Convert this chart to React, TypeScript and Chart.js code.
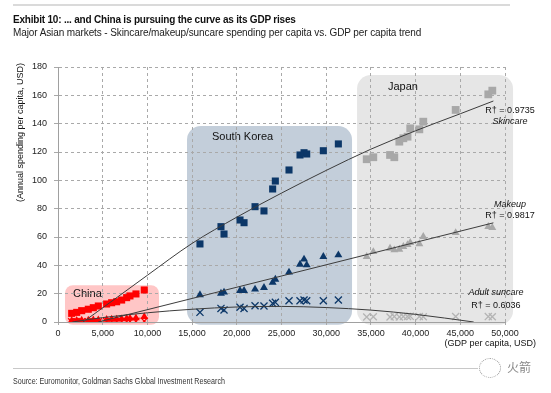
import React, { useEffect, useRef } from "react";
import { Chart, registerables } from "chart.js";

Chart.register(...registerables);

// ---------- data ----------
const chinaGdp = [1530, 2090, 2650, 3390, 3950, 4510, 5440, 6000, 6560, 7120, 7680, 8050, 8720, 9650];
const chinaSkincare = [6.1, 6.8, 8.0, 9.0, 10.1, 11.3, 12.7, 13.6, 14.3, 15.5, 17.2, 18.4, 19.8, 22.6];
const chinaMakeup = [1.0, 1.1, 1.2, 1.3, 1.4, 1.5, 1.7, 1.9, 2.0, 2.2, 2.4, 2.6, 2.8, 3.7];
const chinaSuncare = [0.1, 0.1, 0.1, 0.2, 0.2, 0.2, 0.3, 0.3, 0.3, 0.4, 0.4, 0.4, 0.5, 0.6];

const koreaGdp = [15880, 18230, 18570, 20360, 20810, 22040, 23040, 24010, 24310, 25840, 27070, 27520, 27820, 29680, 31360];
const koreaSkincare = [55.1, 67.3, 62.1, 72.0, 70.1, 81.4, 78.4, 93.9, 99.5, 107.3, 117.9, 119.5, 118.6, 120.9, 125.7];
const koreaMakeup = [19.1, 20.2, 21.0, 22.1, 22.1, 23.1, 24.2, 28.0, 30.1, 35.1, 40.7, 44.3, 40.2, 46.1, 47.3];
const koreaSuncare = [6.8, 9.6, 8.5, 10.4, 9.6, 11.5, 11.3, 13.2, 13.9, 15.0, 15.0, 15.5, 15.0, 15.0, 15.5];

const japanGdp = [34530, 35270, 37140, 37620, 38180, 38630, 39100, 39400, 40420, 40860, 44480, 48130, 48580];
const japanSkincare = [114.9, 116.3, 117.9, 116.3, 127.3, 129.7, 130.8, 136.7, 136.0, 141.4, 149.7, 160.7, 163.3];
const japanMakeup = [46.1, 49.6, 52.0, 50.8, 51.3, 53.2, 54.5, 56.0, 55.1, 60.2, 63.0, 67.3, 66.6];
const japanSuncare = [3.5, 3.7, 3.5, 3.8, 3.6, 3.8, 3.9, 4.0, 3.8, 3.7, 3.9, 3.8, 3.7];

// trend lines
const skincareTrendX = [2800, 5000, 10000, 15000, 20000, 25000, 30000, 35000, 40000, 45000, 48700];
const skincareTrendY = [0, 10, 33, 55.5, 74, 91, 107, 122, 135, 147, 156];
const makeupTrendX = [4500, 48700];
const makeupTrendY = [0, 70];
const suncareTrendX = [1600, 5000, 10000, 15000, 20000, 25000, 30000, 35000, 40000, 46500];
const suncareTrendY = [0, 3.1, 6.5, 9.0, 10.6, 11.0, 10.2, 8.4, 5.4, 0];

// axis ticks
const xTickStep = 5000;
const xMin = 0;
const xMax = 50000;
const yTickStep = 20;
const yMin = 0;
const yMax = 180;

// shaded regions (data units)
const regions = [
  { name: "China", x0: 780, x1: 11300, y0: -2, y1: 26, color: "#FFC6C6", r: 8, lx: 1680, ly: 19.8 },
  { name: "South Korea", x0: 14430, x1: 32890, y0: -2, y1: 138.4, color: "#C3CEDA", r: 14, lx: 17230, ly: 130.6 },
  { name: "Japan", x0: 33450, x1: 50900, y0: -2, y1: 174.4, color: "#E6E6E6", r: 14, lx: 36910, ly: 165.9 },
];

// R-squared annotations (data units, centred)
const notes = [
  { lines: ["R\u2020 = 0.9735", "Skincare"], italic: [false, true], x: 50560, y: [149.0, 141.2] },
  { lines: ["Makeup", "R\u2020 = 0.9817"], italic: [true, false], x: 50560, y: [82.6, 75.5] },
  { lines: ["Adult suncare", "R\u2020 = 0.6036"], italic: [true, false], x: 48990, y: [20.5, 11.6] },
];

const zip = (xs: number[], ys: number[]) => xs.map((x, i) => ({ x, y: ys[i] }));

const RED = "#FF0000";
const NAVY = "#0C3768";
const GREY = "#A8A8A8";
const LINE = "#3C3C3C";
const FONT = "'Liberation Sans', Arial, Helvetica, sans-serif";

function trend(xs: number[], ys: number[]) {
  return {
    data: zip(xs, ys),
    showLine: true,
    borderColor: LINE,
    borderWidth: 1,
    pointRadius: 0,
    cubicInterpolationMode: "monotone" as const,
    fill: false,
  };
}

function marks(xs: number[], ys: number[], color: string, style: string, radius: number) {
  const cross = style === "crossRot";
  return {
    data: zip(xs, ys),
    showLine: false,
    pointStyle: style,
    pointRadius: radius,
    backgroundColor: color,
    borderColor: color,
    pointBorderWidth: cross ? 1.3 : 0,
    borderWidth: cross ? 1.3 : 0,
  };
}

const regionPlugin = {
  id: "regions",
  beforeDraw(chart: any) {
    const { ctx, scales } = chart;
    const xs = scales.x;
    const ys = scales.y;
    ctx.save();
    for (const r of regions) {
      const l = xs.getPixelForValue(r.x0);
      const rr = xs.getPixelForValue(r.x1);
      const t = ys.getPixelForValue(r.y1);
      const b = ys.getPixelForValue(r.y0);
      ctx.fillStyle = r.color;
      ctx.beginPath();
      ctx.roundRect(l, t, rr - l, b - t, r.r);
      ctx.fill();
    }
    ctx.fillStyle = "#111";
    ctx.font = `11px ${FONT}`;
    ctx.textAlign = "left";
    ctx.textBaseline = "middle";
    for (const r of regions) {
      ctx.fillText(r.name, xs.getPixelForValue(r.lx), ys.getPixelForValue(r.ly));
    }
    ctx.restore();
  },
  afterDraw(chart: any) {
    const { ctx, scales, chartArea } = chart;
    const xs = scales.x;
    const ys = scales.y;
    ctx.save();
    ctx.fillStyle = "#111";
    ctx.textBaseline = "middle";
    for (const n of notes) {
      ctx.textAlign = "center";
      n.lines.forEach((s, i) => {
        ctx.font = `${n.italic[i] ? "italic " : ""}9px ${FONT}`;
        ctx.fillText(s, xs.getPixelForValue(n.x), ys.getPixelForValue(n.y[i]));
      });
    }
    // axis titles
    ctx.font = `9px ${FONT}`;
    ctx.textAlign = "right";
    ctx.fillText("(GDP per capita, USD)", chartArea.right + 31, chartArea.bottom + 22);
    ctx.translate(21, chartArea.top - 4);
    ctx.rotate(-Math.PI / 2);
    ctx.textAlign = "right";
    ctx.fillText("(Annual spending per capita, USD)", 0, 0);
    ctx.restore();
  },
};

export default function App() {
  const ref = useRef<HTMLCanvasElement>(null);
  useEffect(() => {
    const canvas = ref.current;
    if (!canvas) return;
    const chart = new Chart(canvas, {
      type: "scatter",
      data: {
        datasets: [
          trend(skincareTrendX, skincareTrendY),
          trend(makeupTrendX, makeupTrendY),
          trend(suncareTrendX, suncareTrendY),
          marks(chinaGdp, chinaSkincare, RED, "rect", 5),
          marks(chinaGdp, chinaMakeup, RED, "triangle", 4.5),
          marks(chinaGdp, chinaSuncare, RED, "crossRot", 5),
          marks(koreaGdp, koreaSkincare, NAVY, "rect", 5),
          marks(koreaGdp, koreaMakeup, NAVY, "triangle", 4.6),
          marks(koreaGdp, koreaSuncare, NAVY, "crossRot", 5),
          marks(japanGdp, japanSkincare, GREY, "rect", 5.5),
          marks(japanGdp, japanMakeup, GREY, "triangle", 4.6),
          marks(japanGdp, japanSuncare, "#B4B4B4", "crossRot", 5),
        ] as any,
      },
      options: {
        animation: false,
        responsive: false,
        devicePixelRatio: 1,
        layout: { padding: { left: 0, top: 67, right: 46, bottom: 51 } },
        plugins: { legend: { display: false }, tooltip: { enabled: false } },
        scales: {
          x: {
            type: "linear",
            min: xMin,
            max: xMax,
            afterFit: (s: any) => {
              s.height = 20;
            },
            ticks: {
              stepSize: xTickStep,
              autoSkip: false,
              maxRotation: 0,
              padding: 3,
              color: "#222",
              font: { family: FONT, size: 9 },
              callback: (v: any) => Number(v).toLocaleString("en-US"),
            },
            grid: { color: "#A9A9A9", tickLength: 3, tickColor: "#A9A9A9", lineWidth: 1 },
            border: { color: "#A0A0A0", width: 1, dash: [3, 3] },
          },
          y: {
            type: "linear",
            min: yMin,
            max: yMax,
            afterFit: (s: any) => {
              s.width = 58;
            },
            ticks: {
              stepSize: yTickStep,
              padding: 7,
              color: "#222",
              font: { family: FONT, size: 9 },
            },
            grid: { color: "#A9A9A9", tickLength: 4, tickColor: "#A9A9A9", lineWidth: 1 },
            border: { color: "#A0A0A0", width: 1, dash: [3, 3] },
          },
        },
      },
      plugins: [regionPlugin],
    });
    return () => chart.destroy();
  }, []);

  return (
    <div
      style={{
        position: "absolute",
        left: 0,
        top: 0,
        width: 551,
        height: 393,
        background: "#fff",
        overflow: "hidden",
        fontFamily: FONT,
      }}
    >
      <canvas ref={ref} width={551} height={393} style={{ position: "absolute", left: 0, top: 0, width: 551, height: 393 }} />
      <div style={{ position: "absolute", left: 13, top: 4, width: 497, height: 2, background: "#DADADA" }} />
      <div
        style={{
          position: "absolute",
          left: 13,
          top: 14,
          fontWeight: "bold",
          fontSize: 10,
          letterSpacing: "-0.2px",
          lineHeight: "12px",
          color: "#111",
          whiteSpace: "nowrap",
        }}
      >
        Exhibit 10: ... and China is pursuing the curve as its GDP rises
      </div>
      <div
        style={{
          position: "absolute",
          left: 13,
          top: 27,
          fontSize: 10,
          letterSpacing: "-0.1px",
          lineHeight: "12px",
          color: "#222",
          whiteSpace: "nowrap",
        }}
      >
        Major Asian markets - Skincare/makeup/suncare spending per capita vs. GDP per capita trend
      </div>
      <div style={{ position: "absolute", left: 13, top: 368, width: 465, height: 1, background: "#C8C8C8" }} />
      <div
        style={{
          position: "absolute",
          left: 13,
          top: 376,
          fontSize: 8.5,
          lineHeight: "10px",
          color: "#333",
          whiteSpace: "nowrap",
          transform: "scaleX(0.84)",
          transformOrigin: "0 0",
        }}
      >
        Source: Euromonitor, Goldman Sachs Global Investment Research
      </div>
      <div
        style={{
          position: "absolute",
          left: 479,
          top: 358,
          width: 20,
          height: 18,
          borderRadius: "50%",
          border: "1px dotted #9A9A9A",
        }}
      />
      <div
        style={{
          position: "absolute",
          left: 507,
          top: 359,
          fontFamily: "'Noto Sans CJK SC', sans-serif",
          fontSize: 12,
          lineHeight: "16px",
          color: "#8A8A8A",
          whiteSpace: "nowrap",
        }}
      >
        火箭
      </div>
    </div>
  );
}
